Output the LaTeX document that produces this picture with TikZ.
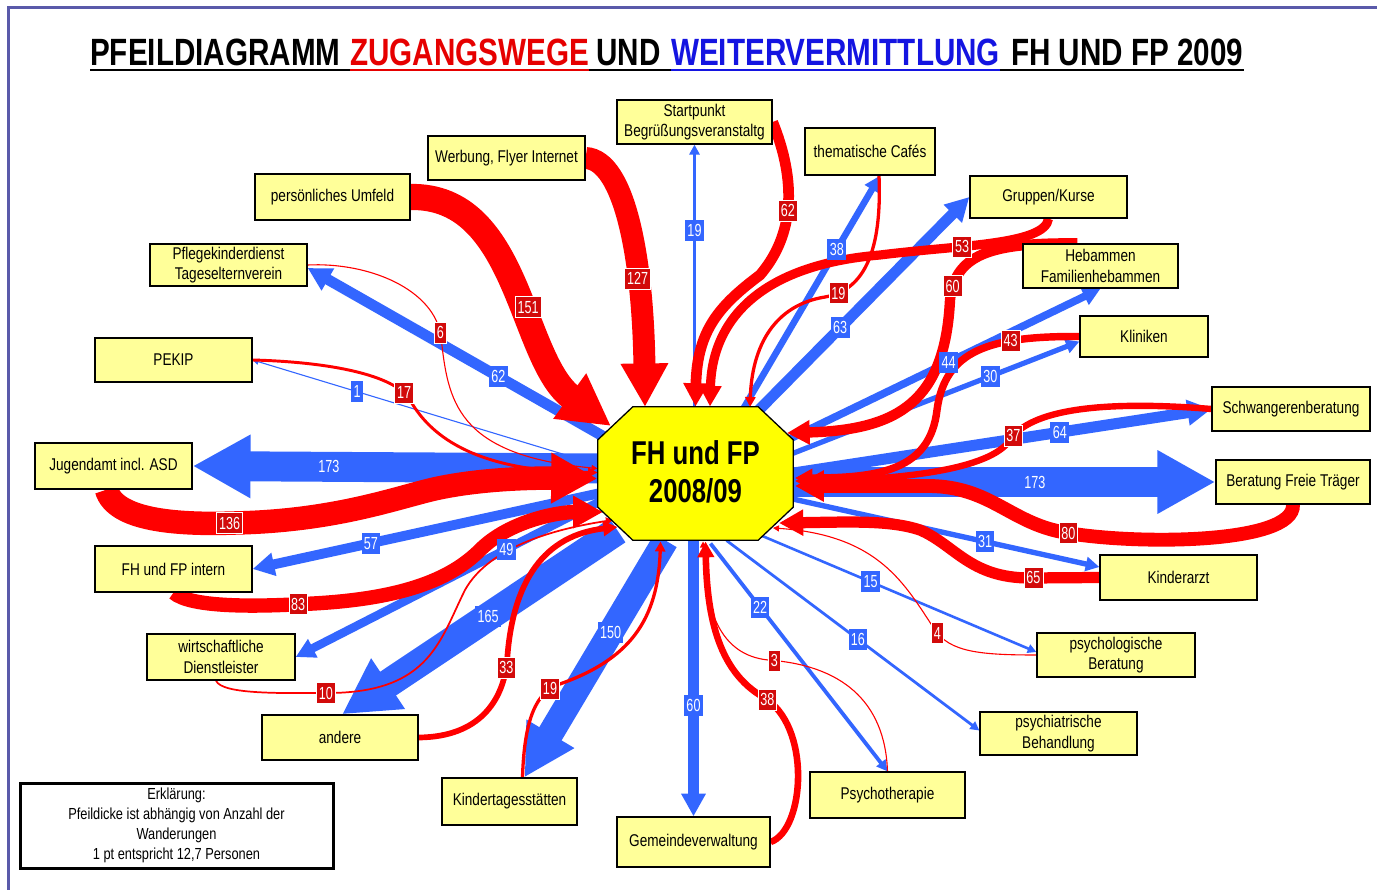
\documentclass[tikz,border=0pt]{standalone}
\usepackage{fontspec}
\setmainfont{Liberation Sans}[FakeStretch=0.8]
\newfontfamily\ttlfont{Liberation Sans}[FakeStretch=0.78]
\newfontfamily\labfont{Liberation Sans}[FakeStretch=0.72]
\usetikzlibrary{arrows.meta,calc}
\definecolor{bblue}{RGB}{51,102,255}
\definecolor{rred}{RGB}{255,0,0}
\definecolor{rlab}{RGB}{210,10,10}
\definecolor{boxy}{RGB}{255,255,153}
\definecolor{octy}{RGB}{255,255,0}
\definecolor{framec}{RGB}{90,90,170}
\definecolor{tblue}{RGB}{20,20,225}
\definecolor{tred}{RGB}{230,0,0}
\newcommand\bxfont{\fontsize{17pt}{20.5pt}\selectfont}
\newcommand\lbfont{\labfont\fontsize{17.5pt}{18pt}\selectfont}
\newcommand\ttlsize{\ttlfont\bfseries\fontsize{38pt}{40pt}\selectfont}
\tikzset{
  box/.style={draw=black, line width=1.3pt, fill=boxy, font=\bxfont, align=center, inner sep=2pt},
  ttl/.style={anchor=base west, inner sep=0pt, font=\ttlsize},
  barr/.style={draw=bblue, line width={max(#1*0.173,1.1)}, -{Triangle[length=4pt 1.8, width=4pt 1.85]}},
  rarr/.style={draw=rred, line width={max(#1*0.173,1.1)}, -{Triangle[length=4pt 1.8, width=4pt 1.85]}},
  bl/.style={fill=bblue, text=white, font=\lbfont, inner xsep=2.4pt, inner ysep=1pt, minimum height=21pt},
  rl/.style={fill=rlab, text=white, font=\lbfont, inner xsep=2.4pt, inner ysep=1pt, minimum height=21pt, draw=white, line width=0.6pt},
}
\begin{document}
\begin{tikzpicture}[x=1pt,y=-1pt]
\useasboundingbox[fill=white] (0,0) rectangle (1377,890);
\draw[framec, line width=3pt] (8,895) -- (8,8) -- (1385,8);

% title
\node[ttl] (t1) at (90,66) {PFEILDIAGRAMM};
\node[ttl, text=tred] (t2) at (350,66) {ZUGANGSWEGE};
\node[ttl] (t3) at (596,66) {UND};
\node[ttl, text=tblue] (t4) at (671,66) {WEITERVERMITTLUNG};
\node[ttl] (t5) at (1011,66) {FH UND FP 2009};
\draw[line width=2.6pt] ([yshift=-4pt]t1.base west) -- ([yshift=-4pt]t5.base east);
\draw[tred, line width=2.6pt] ([yshift=-4pt]t2.base west) -- ([yshift=-4pt]t2.base east);
\draw[tblue, line width=2.6pt] ([yshift=-4pt]t4.base west) -- ([yshift=-4pt]t4.base east);

% centre (shape drawn later)
\node[minimum width=195pt, minimum height=133pt, inner sep=0pt] (C) at (695.5,473.5) {};

% boxes placed first (so that connectors can use their anchors)
\begin{scope}[every node/.style={box}]
\node[minimum width=155pt, minimum height=44pt] (start) at (694.5,122) {Startpunkt\\Begrüßungsveranstaltg};
\node[minimum width=130pt, minimum height=47pt] (cafe) at (870,151.5) {thematische Cafés};
\node[minimum width=157pt, minimum height=42pt] (grupp) at (1048.5,197) {Gruppen/Kurse};
\node[minimum width=155pt, minimum height=44pt] (heb) at (1100.5,266) {Hebammen\\Familienhebammen};
\node[minimum width=128pt, minimum height=41pt] (klin) at (1144,336.5) {Kliniken};
\node[minimum width=158pt, minimum height=44pt] (schw) at (1291,409) {Schwangerenberatung};
\node[minimum width=154pt, minimum height=44pt] (frei) at (1293,482) {Beratung Freie Träger};
\node[minimum width=157pt, minimum height=45pt] (kind) at (1178.5,577.5) {Kinderarzt};
\node[minimum width=158pt, minimum height=44pt] (psyb) at (1116,655) {psychologische\\Beratung};
\node[minimum width=157pt, minimum height=43pt] (psyh) at (1058.5,733.5) {psychiatrische\\Behandlung};
\node[minimum width=155pt, minimum height=46pt] (psyt) at (887.5,795) {Psychotherapie};
\node[minimum width=153pt, minimum height=50pt] (gem) at (693.5,842) {Gemeindeverwaltung};
\node[minimum width=135pt, minimum height=47pt] (kita) at (509.5,801.5) {Kindertagesstätten};
\node[minimum width=156pt, minimum height=45pt] (andere) at (340,737.5) {andere};
\node[minimum width=148pt, minimum height=46pt] (wd) at (221,657) {wirtschaftliche\\Dienstleister};
\node[minimum width=157pt, minimum height=46pt] (fhi) at (173.5,569) {FH und FP intern};
\node[minimum width=157pt, minimum height=46pt] (jug) at (113.5,466) {Jugendamt incl. ASD};
\node[minimum width=157pt, minimum height=44pt] (pekip) at (173.5,360) {PEKIP};
\node[minimum width=157pt, minimum height=42pt] (pfl) at (228.5,265) {Pflegekinderdienst\\Tageselternverein};
\node[minimum width=155pt, minimum height=46pt] (pers) at (332.5,197) {persönliches Umfeld};
\node[minimum width=157pt, minimum height=44pt] (werb) at (506.5,158) {Werbung, Flyer Internet};
\end{scope}

% blue arrows (Weitervermittlung)
\draw[barr=19] ($(C)+(-1,-60)$) -- coordinate[pos=0.68] (lb1) (start.south);
\draw[barr=38] ($(C)+(45,-60)$) -- coordinate[pos=0.69] (lb2) ([xshift=10pt]cafe.south);
\draw[barr=63] ($(C)+(55,-55)$) -- coordinate[pos=0.41] (lb3) (grupp.west);
\draw[barr=44] ($(C)+(95,-35)$) -- coordinate[pos=0.51] (lb4) (heb.south);
\draw[barr=30] ($(C)+(97,-20)$) -- coordinate[pos=0.69] (lb5) ([yshift=-5pt]klin.west);
\draw[barr=64] ($(C)+(95,0)$) -- coordinate[pos=0.64] (lb6) (schw.west);
\draw[barr=173] ($(C)+(90,8.5)$) -- coordinate[pos=0.58] (lb7) (frei.west);
\draw[barr=31] ($(C)+(95,25)$) -- coordinate[pos=0.63] (lb8) ([yshift=10.5pt]kind.west);
\draw[barr=15] ($(C)+(64.5,61.5)$) -- coordinate[pos=0.4] (lb9) ([yshift=3pt]psyb.west);
\draw[barr=16] ($(C)+(31,67)$) -- coordinate[pos=0.52] (lb10) ([yshift=3pt]psyh.west);
\draw[barr=22] ($(C)+(15,70)$) -- coordinate[pos=0.28] (lb11) (psyt.north);
\draw[barr=60] ($(C)+(-2,65)$) -- coordinate[pos=0.6] (lb12) (gem.north);
\draw[barr=150] ($(C)+(-30,67)$) -- coordinate[pos=0.39] (lb13) ([xshift=15pt]kita.north);
\draw[barr=165] ($(C)+(-78,57)$) -- coordinate[pos=0.47] (lb14) ([xshift=2pt]andere.north);
\draw[barr=49] ($(C)+(-90,25)$) -- coordinate[pos=0.32] (lb15) (wd.east);
\draw[barr=57] ($(C)+(-95,19.5)$) -- coordinate[pos=0.66] (lb16) (fhi.east);
\draw[barr=173] ($(C)+(-90,-5)$) -- coordinate[pos=0.67] (lb17) (jug.east);
\draw[barr=1] ($(C)+(-95,-8)$) -- coordinate[pos=0.7] (lb18) (pekip.east);
\draw[barr=62] ($(C)+(-85,-33)$) -- coordinate[pos=0.37] (lb19) ([yshift=-3pt]pfl.east);

% red arrows (Zugangswege)
\draw[rarr=127] (werb.east) .. controls (625,160) and (643,260) .. coordinate[pos=0.67] (lr1) ($(C)+(-50.5,-66.5)$);
\draw[rarr=151] (pers.east) .. controls (520,195) and (520,360) .. coordinate[pos=0.57] (lr2) ($(C)+(-84.5,-47.5)$);
\draw[rarr=62] (start.east) .. controls (800,190) and (790,240) .. coordinate[pos=0.5] (lr3) (760,275) .. controls (720,305) and (697,330) .. ($(C)+(0,-67)$);
\draw[rarr=19] ([xshift=9pt]cafe.south) .. controls (882,250) and (865,290) .. coordinate[pos=0.88] (lr4) (825,297) .. controls (775,305) and (752,345) .. ($(C)+(54.5,-66.5)$);
\draw[rarr=53] (grupp.south) .. controls (1045,245) and (960,245) .. coordinate[pos=0.65] (lr5) (880,255) .. controls (760,265) and (712,320) .. ($(C)+(14.5,-67)$);
\draw[rarr=60] ([xshift=55pt]heb.north west) .. controls (1000,243) and (955,250) .. coordinate[pos=0.9] (lr6) (950,300) .. controls (945,400) and (900,430) .. ($(C)+(91.5,-40.5)$);
\draw[rarr=43] (klin.west) .. controls (990,336) and (945,350) .. coordinate[pos=0.3] (lr7) (937,410) .. controls (930,470) and (880,478) .. ($(C)+(99.5,4.5)$);
\draw[rarr=37] (schw.west) .. controls (1100,400) and (1030,410) .. coordinate[pos=0.95] (lr8) (1010,440) .. controls (990,470) and (900,480) .. ($(C)+(99.5,7.5)$);
\draw[rarr=80] (frei.south) .. controls (1295,545) and (1130,545) .. coordinate[pos=0.97] (lr9) (1062,532) .. controls (1010,522) and (990,487) .. (930,486) -- ($(C)+(99.5,12.5)$);
\draw[rarr=65] (kind.west) -- coordinate[pos=0.95] (lr10) (1030,578) .. controls (970,578) and (955,545) .. (920,530) .. controls (890,520) and (850,522) .. ($(C)+(83.5,49.5)$);
\draw[rarr=4] (psyb.west) .. controls (980,655) and (950,652) .. coordinate[pos=0.95] (lr11) (935,630) .. controls (905,585) and (880,535) .. ($(C)+(77.5,54.5)$);
\draw[rarr=3] (psyt.north) .. controls (885,700) and (840,665) .. coordinate[pos=0.97] (lr12) (768,660) .. controls (720,655) and (704,610) .. ($(C)+(7.5,68)$);
\draw[rarr=38] (gem.east) .. controls (805,830) and (812,725) .. coordinate[pos=0.97] (lr13) (763,697) .. controls (720,672) and (707,620) .. ($(C)+(10,68)$);
\draw[rarr=19] ([xshift=13pt]kita.north) .. controls (524,730) and (532,695) .. coordinate[pos=0.9] (lr14) (557,685) .. controls (630,660) and (658,620) .. ($(C)+(-35,68)$);
\draw[rarr=33] (andere.east) .. controls (480,737) and (503,700) .. coordinate[pos=0.95] (lr15) (507,662) .. controls (512,580) and (545,535) .. ($(C)+(-78,53.5)$);
\draw[rarr=10] ([xshift=-5pt]wd.south) .. controls (222,695) and (285,693) .. coordinate[pos=0.97] (lr16) (330,693) .. controls (430,692) and (440,640) .. (465,590) .. controls (490,545) and (560,528) .. ($(C)+(-82.5,46.5)$);
\draw[rarr=83] (fhi.south) .. controls (190,607) and (250,607) .. coordinate[pos=0.97] (lr17) (303,604) .. controls (400,600) and (450,580) .. (480,550) .. controls (510,520) and (560,512) .. ($(C)+(-92.5,38.5)$);
\draw[rarr=136] ([xshift=-7pt]jug.south) .. controls (115,520) and (175,525) .. coordinate[pos=0.97] (lr18) (235,523) .. controls (330,521) and (390,500) .. (430,490) .. controls (480,478) and (540,478) .. ($(C)+(-98,5)$);
\draw[rarr=17] (pekip.east) .. controls (330,362) and (395,375) .. coordinate[pos=0.9] (lr19) (410,400) .. controls (428,432) and (470,472) .. ($(C)+(-98,-1)$);
\draw[rarr=6] (pfl.east) .. controls (370,262) and (435,290) .. coordinate[pos=0.97] (lr20) (441,337) .. controls (448,400) and (455,455) .. ($(C)+(-98,-5)$);

% octagon
\draw[fill=octy, line width=1.3pt] ([xshift=35pt]C.north west) -- ([xshift=-35pt]C.north east) -- ([yshift=-33pt]C.north east) -- ([yshift=33pt]C.south east) -- ([xshift=-35pt]C.south east) -- ([xshift=35pt]C.south west) -- ([yshift=33pt]C.south west) -- ([yshift=-33pt]C.north west) -- cycle;
\node[font=\ttlfont\bfseries\fontsize{33pt}{38pt}\selectfont, align=center] (Ct) at ([yshift=2pt]C.center) {FH und FP\\2008/09};

% boxes drawn again on top of the connector ends
\begin{scope}[every node/.style={box}]
\node[minimum width=155pt, minimum height=44pt] (start2) at (start) {Startpunkt\\Begrüßungsveranstaltg};
\node[minimum width=130pt, minimum height=47pt] (cafe2) at (cafe) {thematische Cafés};
\node[minimum width=157pt, minimum height=42pt] (grupp2) at (grupp) {Gruppen/Kurse};
\node[minimum width=155pt, minimum height=44pt] (heb2) at (heb) {Hebammen\\Familienhebammen};
\node[minimum width=128pt, minimum height=41pt] (klin2) at (klin) {Kliniken};
\node[minimum width=158pt, minimum height=44pt] (schw2) at (schw) {Schwangerenberatung};
\node[minimum width=154pt, minimum height=44pt] (frei2) at (frei) {Beratung Freie Träger};
\node[minimum width=157pt, minimum height=45pt] (kind2) at (kind) {Kinderarzt};
\node[minimum width=158pt, minimum height=44pt] (psyb2) at (psyb) {psychologische\\Beratung};
\node[minimum width=157pt, minimum height=43pt] (psyh2) at (psyh) {psychiatrische\\Behandlung};
\node[minimum width=155pt, minimum height=46pt] (psyt2) at (psyt) {Psychotherapie};
\node[minimum width=153pt, minimum height=50pt] (gem2) at (gem) {Gemeindeverwaltung};
\node[minimum width=135pt, minimum height=47pt] (kita2) at (kita) {Kindertagesstätten};
\node[minimum width=156pt, minimum height=45pt] (andere2) at (andere) {andere};
\node[minimum width=148pt, minimum height=46pt] (wd2) at (wd) {wirtschaftliche\\Dienstleister};
\node[minimum width=157pt, minimum height=46pt] (fhi2) at (fhi) {FH und FP intern};
\node[minimum width=157pt, minimum height=46pt] (jug2) at (jug) {Jugendamt incl. ASD};
\node[minimum width=157pt, minimum height=44pt] (pekip2) at (pekip) {PEKIP};
\node[minimum width=157pt, minimum height=42pt] (pfl2) at (pfl) {Pflegekinderdienst\\Tageselternverein};
\node[minimum width=155pt, minimum height=46pt] (pers2) at (pers) {persönliches Umfeld};
\node[minimum width=157pt, minimum height=44pt] (werb2) at (werb) {Werbung, Flyer Internet};
\end{scope}

% legend
\node[draw=black, line width=3pt, fill=white, minimum width=313pt, minimum height=85pt, align=center, font=\fontsize{16pt}{20pt}\selectfont] (leg) at (176.5,825.5) {Erklärung:\\Pfeildicke ist abhängig von Anzahl der\\Wanderungen\\1 pt entspricht 12,7 Personen};

% labels
\node[bl] (nb1) at (lb1) {19};
\node[bl] (nb2) at (lb2) {38};
\node[bl] (nb3) at (lb3) {63};
\node[bl] (nb4) at (lb4) {44};
\node[bl] (nb5) at (lb5) {30};
\node[bl] (nb6) at (lb6) {64};
\node[bl] (nb7) at (lb7) {173};
\node[bl] (nb8) at (lb8) {31};
\node[bl] (nb9) at (lb9) {15};
\node[bl] (nb10) at (lb10) {16};
\node[bl] (nb11) at (lb11) {22};
\node[bl] (nb12) at (lb12) {60};
\node[bl] (nb13) at (lb13) {150};
\node[bl] (nb14) at (lb14) {165};
\node[bl] (nb15) at (lb15) {49};
\node[bl] (nb16) at (lb16) {57};
\node[bl] (nb17) at (lb17) {173};
\node[bl] (nb18) at (lb18) {1};
\node[bl] (nb19) at (lb19) {62};
\node[rl] (nr1) at (lr1) {127};
\node[rl] (nr2) at (lr2) {151};
\node[rl] (nr3) at (lr3) {62};
\node[rl] (nr4) at (lr4) {19};
\node[rl] (nr5) at (lr5) {53};
\node[rl] (nr6) at (lr6) {60};
\node[rl] (nr7) at (lr7) {43};
\node[rl] (nr8) at (lr8) {37};
\node[rl] (nr9) at (lr9) {80};
\node[rl] (nr10) at (lr10) {65};
\node[rl] (nr11) at (lr11) {4};
\node[rl] (nr12) at (lr12) {3};
\node[rl] (nr13) at (lr13) {38};
\node[rl] (nr14) at (lr14) {19};
\node[rl] (nr15) at (lr15) {33};
\node[rl] (nr16) at (lr16) {10};
\node[rl] (nr17) at (lr17) {83};
\node[rl] (nr18) at (lr18) {136};
\node[rl] (nr19) at (lr19) {17};
\node[rl] (nr20) at (lr20) {6};
\end{tikzpicture}
\end{document}
